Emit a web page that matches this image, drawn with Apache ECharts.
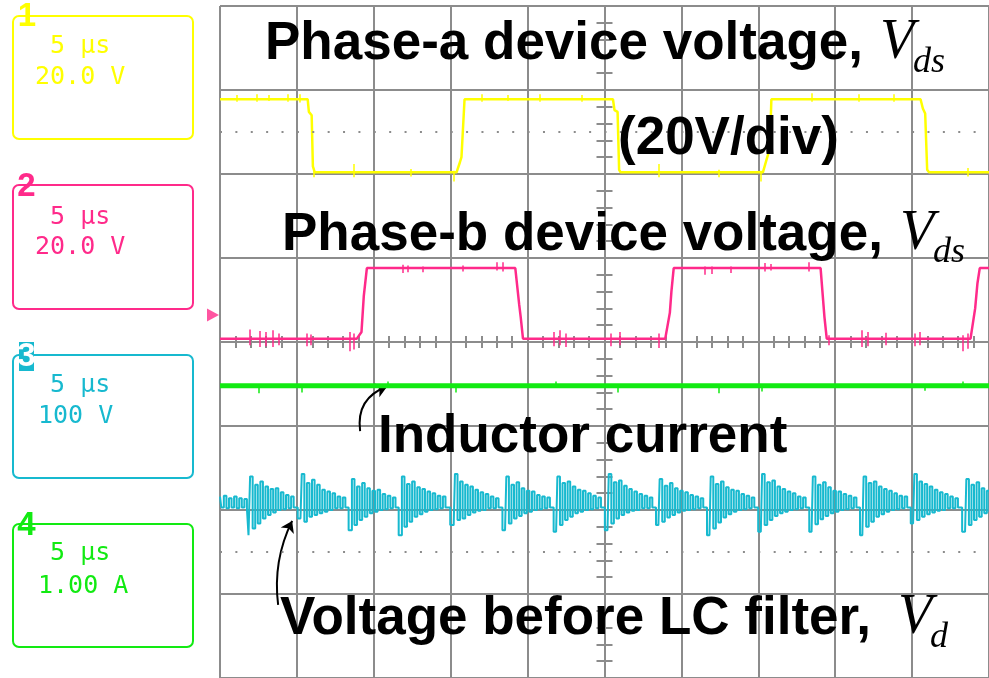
<!DOCTYPE html>
<html>
<head>
<meta charset="utf-8">
<title>Phase voltages, inductor current and Vd</title>
<script src="https://cdn.jsdelivr.net/npm/echarts@6/dist/echarts.min.js"></script>
<style>
  html, body { margin: 0; padding: 0; background: #fff; }
  #chart { width: 989px; height: 678px; }
</style>
</head>
<body>
<div id="chart"></div>
<script>
// time in us from screen centre (5 us/div), level in screen divisions (0 = centre line)
const ch1Time = [-25, -19.30, -19.22, -19.04, -18.96, -18.84, -9.62, -9.40, -9.30, -9.10, 0.55, 0.65, 0.85, 0.95, 1.05, 10.30, 10.55, 10.75, 10.85, 20.55, 20.70, 20.85, 20.98, 21.10, 25];
const ch1Level = [2.89, 2.89, 2.74, 2.70, 2.09, 2.02, 2.02, 2.14, 2.20, 2.89, 2.89, 2.76, 2.74, 2.05, 2.02, 2.02, 2.18, 2.30, 2.89, 2.89, 2.78, 2.72, 2.05, 2.02, 2.02];
const ch2Time = [-25, -16.10, -15.80, -15.65, -15.45, -5.80, -5.55, -5.45, -5.30, 3.95, 4.25, 4.35, 4.50, 14.05, 14.30, 14.45, 23.80, 24.10, 24.25, 24.40, 25];
const ch2Level = [0.04, 0.04, 0.12, 0.55, 0.88, 0.88, 0.45, 0.30, 0.04, 0.04, 0.35, 0.60, 0.88, 0.88, 0.30, 0.04, 0.04, 0.40, 0.70, 0.88, 0.88];
const ch4Time = [-25, 25];
const ch4Level = [-0.52, -0.52];

// noise spikes: [time, low, high]
const ch1Glitch = [
  [-23.9, 2.86, 2.94], [-22.6, 2.86, 2.95], [-21.8, 2.87, 2.94], [-20.6, 2.86, 2.95], [-19.8, 2.85, 2.95],
  [-18.9, 1.96, 2.05], [-16.3, 1.96, 2.12], [-12.6, 1.97, 2.06], [-9.8, 1.91, 2.04],
  [-8.0, 2.86, 2.95], [-6.3, 2.87, 2.94], [-4.2, 2.86, 2.95], [-1.5, 2.86, 2.94],
  [3.5, 1.96, 2.12], [7.4, 1.96, 2.05], [10.15, 1.91, 2.04],
  [13.5, 2.86, 2.96], [16.5, 2.86, 2.95], [18.8, 2.86, 2.95], [23.6, 1.97, 2.07]
];
const ch2Glitch = [
  [-23.05, -0.04, 0.15], [-22.4, -0.06, 0.13], [-22.0, -0.05, 0.12], [-21.6, -0.06, 0.14], [-21.2, -0.04, 0.10],
  [-19.35, -0.05, 0.10], [-19.1, -0.04, 0.09], [-16.55, -0.11, 0.12], [-16.3, -0.09, 0.10],
  [-13.1, 0.82, 0.92], [-12.8, 0.83, 0.91], [-11.8, 0.83, 0.90], [-9.2, 0.84, 0.91], [-7.0, 0.85, 0.95], [-6.6, 0.84, 0.95],
  [-3.3, -0.05, 0.12], [-2.9, -0.04, 0.14], [-2.5, -0.06, 0.10], [0.4, -0.05, 0.10], [1.0, -0.04, 0.12], [3.5, -0.07, 0.10],
  [6.5, 0.80, 0.90], [7.0, 0.81, 0.90], [8.2, 0.82, 0.90], [10.4, 0.84, 0.94], [10.8, 0.85, 0.93], [13.3, 0.84, 0.95],
  [14.6, -0.04, 0.08], [16.7, -0.06, 0.14], [17.1, -0.05, 0.12], [18.3, -0.04, 0.11], [20.2, -0.05, 0.10], [20.5, -0.04, 0.12],
  [23.3, -0.11, 0.08], [23.6, -0.08, 0.10]
];
const ch4Glitch = [
  [-22.5, -0.61, -0.52], [-19.7, -0.60, -0.52], [-14.1, -0.52, -0.47], [-9.7, -0.60, -0.52], [-3.2, -0.52, -0.47],
  [0.85, -0.60, -0.52], [7.4, -0.61, -0.52], [10.2, -0.59, -0.52], [20.8, -0.58, -0.52], [23.3, -0.52, -0.47]
];

// ch3 (voltage before LC filter): samples every 1/6 us
const ch3SampleUs = 1 / 6;
const ch3Lead = [-1.84, -1.97, -1.83, -1.98, -1.86, -1.97, -1.84, -1.98, -1.86, -1.97, -1.87, -1.98];
const ch3PeakTime = [-22.96, -19.60, -16.34, -13.09, -9.64, -6.30, -2.98, 0.36, 3.67, 6.99, 10.33, 13.63, 16.93, 20.23, 23.61];
const ch3Burst = [
  [-2.30, -1.60, -2.22, -1.70, -2.16, -1.66, -2.10, -1.72, -2.06, -1.75, -2.03, -1.74, -2.00, -1.79, -1.99, -1.82, -1.98, -1.84, -1.97],
  [-2.10, -1.57, -2.14, -1.68, -2.08, -1.64, -2.06, -1.70, -2.04, -1.76, -2.02, -1.78, -2.00, -1.80, -1.98, -1.84, -1.98, -1.85, -1.97],
  [-2.24, -1.63, -2.18, -1.72, -2.12, -1.68, -2.08, -1.74, -2.04, -1.77, -2.02, -1.76, -2.00, -1.81, -1.99, -1.83, -1.98, -1.85, -1.97],
  [-2.30, -1.60, -2.20, -1.69, -2.14, -1.66, -2.08, -1.73, -2.05, -1.75, -2.02, -1.78, -2.00, -1.80, -1.99, -1.83, -1.98, -1.84, -1.97],
  [-2.18, -1.57, -2.12, -1.66, -2.10, -1.70, -2.06, -1.72, -2.03, -1.76, -2.01, -1.79, -2.00, -1.81, -1.98, -1.84, -1.98, -1.86, -1.97],
  [-2.24, -1.60, -2.16, -1.70, -2.10, -1.67, -2.07, -1.74, -2.04, -1.77, -2.02, -1.78, -2.00, -1.82, -1.99, -1.84, -1.98, -1.85, -1.97],
  [-2.26, -1.60, -2.18, -1.68, -2.12, -1.66, -2.08, -1.72, -2.04, -1.76, -2.02, -1.77, -2.00, -1.80, -1.99, -1.83, -1.98, -1.85, -1.97],
  [-2.24, -1.57, -2.16, -1.67, -2.10, -1.65, -2.06, -1.71, -2.03, -1.75, -2.01, -1.78, -2.00, -1.81, -1.98, -1.83, -1.98, -1.85, -1.97],
  [-2.18, -1.63, -2.14, -1.71, -2.09, -1.68, -2.06, -1.74, -2.03, -1.77, -2.01, -1.79, -2.00, -1.82, -1.99, -1.84, -1.98, -1.86, -1.97],
  [-2.30, -1.60, -2.22, -1.69, -2.15, -1.66, -2.09, -1.73, -2.05, -1.76, -2.02, -1.77, -2.00, -1.81, -1.99, -1.83, -1.98, -1.85, -1.97],
  [-2.26, -1.57, -2.18, -1.67, -2.12, -1.65, -2.07, -1.72, -2.04, -1.75, -2.02, -1.78, -2.00, -1.80, -1.99, -1.84, -1.98, -1.85, -1.97],
  [-2.26, -1.60, -2.17, -1.70, -2.11, -1.67, -2.07, -1.73, -2.04, -1.77, -2.02, -1.78, -2.00, -1.81, -1.99, -1.83, -1.98, -1.85, -1.97],
  [-2.30, -1.60, -2.20, -1.68, -2.14, -1.66, -2.08, -1.72, -2.05, -1.75, -2.02, -1.77, -2.00, -1.80, -1.99, -1.83, -1.98, -1.84, -1.97],
  [-2.16, -1.57, -2.12, -1.66, -2.08, -1.69, -2.05, -1.72, -2.03, -1.76, -2.01, -1.79, -2.00, -1.81, -1.98, -1.84, -1.98, -1.86, -1.97],
  [-2.26, -1.63, -2.18, -1.70, -2.12, -1.67, -2.08, -1.74, -2.04, -1.77, -2.02, -1.78, -2.00, -1.81, -1.99, -1.84, -1.98, -1.85, -1.97]
];
const ch2Marker = 0.32;
const markerDots = [2.5, -2.5];

const yellow = '#ffff00';
const pink = '#ff2a8a';
const cyan = '#17b9cf';
const green = '#12ea12';
const gridColor = '#8c8c8c';

function zip(t, v) {
  return t.map((x, i) => [x, v[i]]);
}
function glitchLines(list) {
  return list.map(g => ({ coords: [[g[0], g[1]], [g[0], g[2]]] }));
}

let ch3Data = ch3Lead.map((v, i) => [-25 + i * ch3SampleUs, v]);
ch3PeakTime.forEach((tp, b) => {
  ch3Burst[b].forEach((v, i) => ch3Data.push([tp + (i - 1) * ch3SampleUs, v]));
});

const labelFont = 'bold 53px "Liberation Sans", Arial, sans-serif';
const symFont = 'italic 56px "Liberation Serif", "Times New Roman", serif';
const subFont = 'italic 36px "Liberation Serif", "Times New Roman", serif';
const monoFont = '25px "DejaVu Sans Mono", monospace';
const digitFont = 'bold 33px "Liberation Sans", Arial, sans-serif';

function txt(text, x, y, font, fill, align, z) {
  return {
    type: 'text', z: z || 100,
    style: {
      text: text, x: x, y: y, font: font, fill: fill,
      textAlign: align || 'left', align: align || 'left',
      textVerticalAlign: 'middle', verticalAlign: 'middle'
    }
  };
}
function box(y, h, color) {
  return {
    type: 'rect', z: 100,
    shape: { x: 13, y: y, width: 180, height: h, r: 6 },
    style: { fill: 'none', stroke: color, lineWidth: 2 }
  };
}

let graphics = [
  // channel boxes
  box(16, 123, yellow), txt('1', 27, 17, digitFont, yellow, 'center'),
  txt(' 5 μs', 35, 46, monoFont, yellow), txt('20.0 V', 35, 77, monoFont, yellow),
  box(185, 124, pink), txt('2', 26.5, 186.5, digitFont, pink, 'center'),
  txt(' 5 μs', 35, 217, monoFont, pink), txt('20.0 V', 35, 247, monoFont, pink),
  box(355, 123, cyan),
  { type: 'rect', z: 101, shape: { x: 19, y: 342, width: 15, height: 29 }, style: { fill: cyan } },
  txt('3', 26.5, 357, digitFont, '#fff', 'center', 102),
  txt(' 5 μs', 35, 385, monoFont, cyan), txt('100 V', 38, 416, monoFont, cyan),
  box(524, 123, green), txt('4', 26.5, 526, digitFont, green, 'center'),
  txt(' 5 μs', 35, 553, monoFont, green), txt('1.00 A', 38, 586, monoFont, green),
  // annotations
  txt('Phase-a device voltage,', 265, 44, labelFont, '#000'),
  txt('V', 880, 43, symFont, '#000'), txt('ds', 913, 63, subFont, '#000'),
  txt('(20V/div)', 618, 139, labelFont, '#000'),
  txt('Phase-b device voltage,', 282, 235, labelFont, '#000'),
  txt('V', 900, 234, symFont, '#000'), txt('ds', 933, 253, subFont, '#000'),
  txt('Inductor current', 378, 437, labelFont, '#000'),
  txt('Voltage before LC filter,', 280, 619, labelFont, '#000'),
  txt('V', 898, 618, symFont, '#000'), txt('d', 930, 638, subFont, '#000')
];

function tickAxis(interval, length, inside) {
  return {
    type: 'value', min: interval === 1 ? -25 : -4, max: interval === 1 ? 25 : 4, interval: interval,
    axisLine: { show: true, onZero: true, lineStyle: { color: gridColor, width: 2 } },
    axisTick: { show: true, inside: inside, length: length, lineStyle: { color: gridColor, width: 2 } },
    axisLabel: { show: false }, splitLine: { show: false }
  };
}

let chart = echarts.init(document.getElementById('chart'));
chart.setOption({
  animation: false,
  backgroundColor: '#fff',
  grid: { left: 220, top: 6, width: 769, height: 674 },
  xAxis: [
    {
      type: 'value', min: -25, max: 25, interval: 5,
      axisLine: { show: false }, axisTick: { show: false }, axisLabel: { show: false },
      splitLine: { show: true, lineStyle: { color: gridColor, width: 2 } }
    },
    tickAxis(1, 6, true),
    tickAxis(1, 6, false)
  ],
  yAxis: [
    {
      type: 'value', min: -4, max: 4, interval: 1,
      axisLine: { show: false }, axisTick: { show: false }, axisLabel: { show: false },
      splitLine: { show: true, lineStyle: { color: gridColor, width: 2 } }
    },
    tickAxis(0.2, 8, true),
    tickAxis(0.2, 8, false)
  ],
  series: [
    {
      type: 'line', name: 'Inductor current', data: zip(ch4Time, ch4Level), symbol: 'none',
      lineStyle: { color: green, width: 5 },
      markLine: {
        silent: true, symbol: 'none', label: { show: false },
        lineStyle: { color: gridColor, width: 2, type: [2, 13.38] },
        data: markerDots.map(v => ({ yAxis: v }))
      }
    },
    {
      type: 'lines', coordinateSystem: 'cartesian2d', data: glitchLines(ch4Glitch),
      lineStyle: { color: green, width: 1.5, opacity: 1 }
    },
    {
      type: 'line', name: 'Voltage before LC filter', data: ch3Data, symbol: 'none', step: 'middle',
      lineStyle: { color: cyan, width: 2 }
    },
    {
      type: 'line', name: 'Phase-a', data: zip(ch1Time, ch1Level), symbol: 'none',
      lineStyle: { color: yellow, width: 2.5 }
    },
    {
      type: 'lines', coordinateSystem: 'cartesian2d', data: glitchLines(ch1Glitch),
      lineStyle: { color: yellow, width: 1.5, opacity: 1 }
    },
    {
      type: 'line', name: 'Phase-b', data: zip(ch2Time, ch2Level), symbol: 'none',
      lineStyle: { color: pink, width: 2.5 }
    },
    {
      type: 'lines', coordinateSystem: 'cartesian2d', data: glitchLines(ch2Glitch),
      lineStyle: { color: pink, width: 1.5, opacity: 1 }
    },
    {
      type: 'scatter', data: [[-25, ch2Marker]], symbol: 'triangle', symbolSize: [13, 12],
      symbolRotate: -90, symbolOffset: [-7, 0], clip: false, silent: true,
      itemStyle: { color: pink }
    },
    {
      // annotation arrows
      type: 'lines', coordinateSystem: 'cartesian2d', symbol: ['none', 'arrow'], symbolSize: 11,
      lineStyle: { color: '#000', width: 2, opacity: 1 },
      data: [
        { coords: [[-15.89, -1.06], [-14.13, -0.53]], lineStyle: { curveness: 0.4 } },
        { coords: [[-21.22, -3.13], [-20.31, -2.13]], lineStyle: { curveness: 0.15 } }
      ]
    }
  ],
  graphic: { elements: graphics }
});
</script>
</body>
</html>
